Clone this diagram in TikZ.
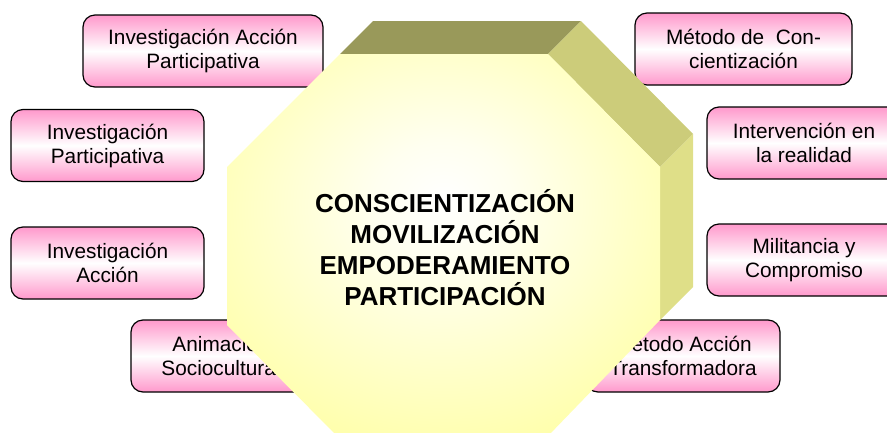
\documentclass[tikz,border=0pt]{standalone}
\usepackage{fontspec}
\setmainfont{Liberation Sans}
\usepackage{xcolor}

\definecolor{boxpink}{HTML}{FF99CC}
\definecolor{octyellow}{HTML}{FFFF99}
\definecolor{topface}{HTML}{99995A}
\definecolor{diagface}{HTML}{CCCC7A}
\definecolor{sideface}{HTML}{DFDF88}

\pgfdeclareradialshading{octshade}{\pgfpoint{0bp}{6bp}}{%
  color(0bp)=(white); color(8bp)=(white!85!octyellow);
  color(38bp)=(octyellow); color(100bp)=(octyellow)}

\begin{document}
\begin{tikzpicture}[x=1pt,y=-1pt]
% Define styles
\tikzstyle{pinkBox}=[rectangle, rounded corners=12pt, minimum height=72pt, inner sep=0pt, align=center, draw=black, line width=1.2pt, top color=boxpink, bottom color=boxpink, middle color=white, font=\fontsize{20.8}{24}\selectfont]
\tikzstyle{centerText}=[align=center, inner sep=0pt, font=\fontsize{26}{31}\selectfont\bfseries]

% Page size
\clip (0,0) rectangle (887,432);

% Boxes around the octagon
\node[pinkBox, minimum width=240pt] (iap) at (203,51) {Investigación Acción\\Participativa};
\node[pinkBox, minimum width=193pt] (ip) at (107.5,145.5) {Investigación\\Participativa};
\node[pinkBox, minimum width=193pt] (ia) at (107.5,263) {Investigación\\Acción};
\node[pinkBox, minimum width=180pt] (anim) at (221,356) {Animación\\Sociocultural};
\node[pinkBox, minimum width=217pt] (mcon) at (743.5,49) {Método de~ Con-\\cientización};
\node[pinkBox, minimum width=194pt] (interv) at (804,143) {Intervención en\\la realidad};
\node[pinkBox, minimum width=194pt] (milit) at (804,260) {Militancia y\\Compromiso};
\node[pinkBox, minimum width=194pt] (mat) at (683,356) {Método Acción\\Transformadora};

% Octagon, back faces
\fill[topface] (340,54) -- (548,54) -- (581,21) -- (373,21) -- cycle;
\fill[diagface] (548,54) -- (660,167) -- (693,134) -- (581,21) -- cycle;
\fill[sideface] (660,167) -- (660,320) -- (693,287) -- (693,134) -- cycle;

% Octagon, front face
\shade[shading=octshade] (340,54) -- (548,54) -- (660,167) -- (660,320) -- (548,436)
  -- (337,436) -- (227,325) -- (227,167) -- cycle;

\node[centerText] (core) at (445,248) {CONSCIENTIZACIÓN\\MOVILIZACIÓN\\EMPODERAMIENTO\\PARTICIPACIÓN};
\end{tikzpicture}
\end{document}
